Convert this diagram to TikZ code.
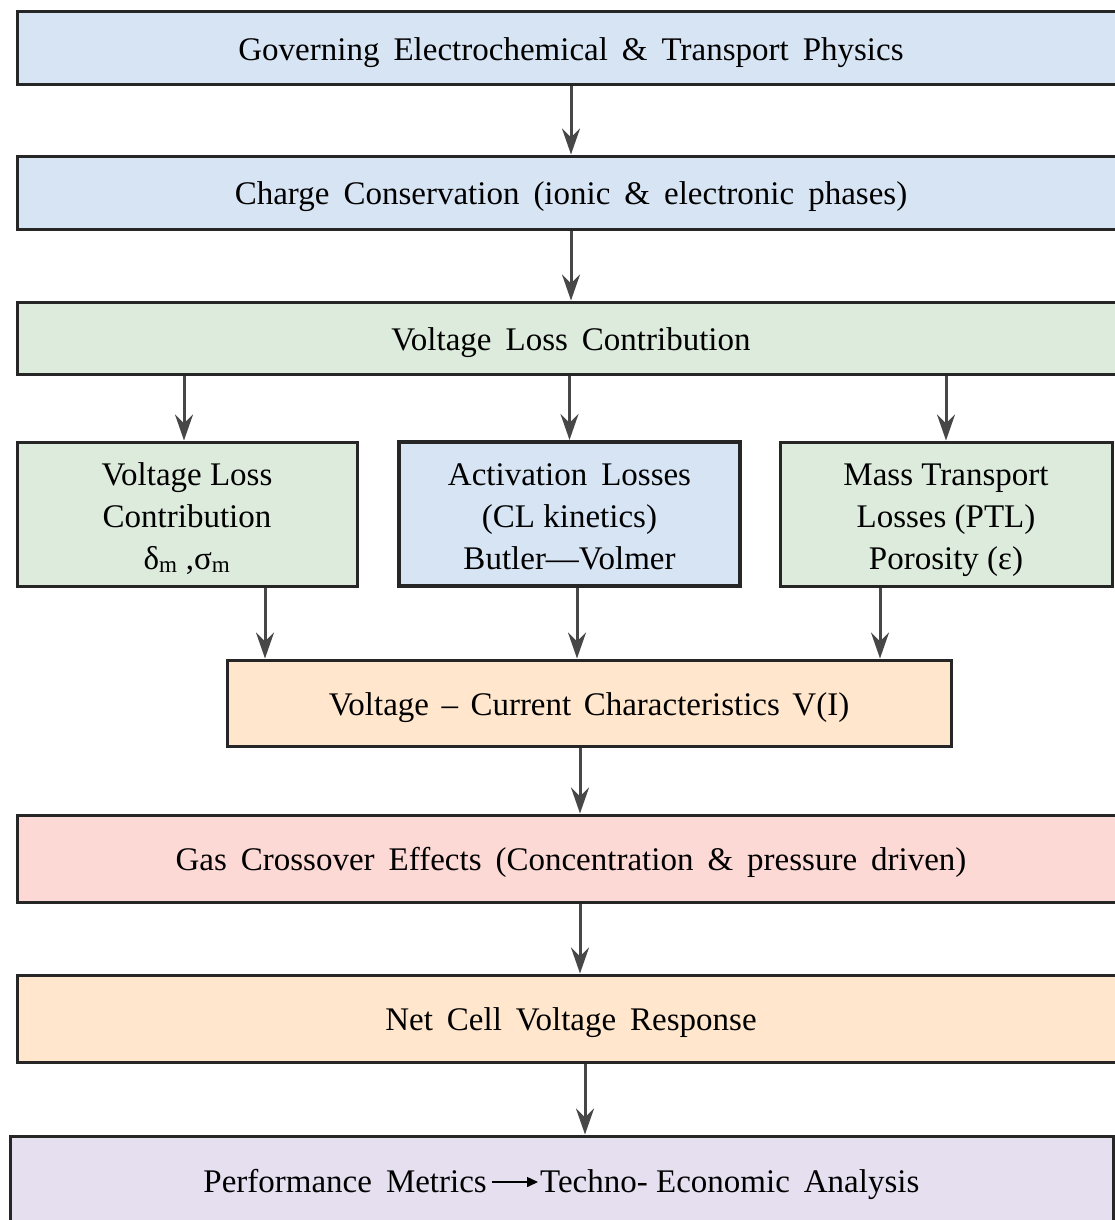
\documentclass[tikz,border=0pt]{standalone}
\usepackage{fontspec}
\setmainfont{Liberation Serif}
\usetikzlibrary{arrows.meta}
\definecolor{bluef}{HTML}{D6E4F4}
\definecolor{greenf}{HTML}{DDEBDD}
\definecolor{orangef}{HTML}{FFE6CC}
\definecolor{pinkf}{HTML}{FDD9D6}
\definecolor{purplef}{HTML}{E6DFF0}
\definecolor{bord}{HTML}{262626}
\definecolor{arrc}{HTML}{474747}
\newcommand{\gap}{\hspace*{14pt}\ignorespaces}
\newcommand{\gapm}{\hspace*{12.5pt}\ignorespaces}
\begin{document}
\begin{tikzpicture}[x=1pt,y=-1pt,
  box/.style={draw=bord, line width=3pt, inner sep=0pt, align=center,
    font=\fontsize{33}{42}\selectfont},
  one/.style={box, text height=24pt, text depth=0pt},
  three/.style={box, text height=110pt, text depth=0pt},
  txt/.style={inner sep=0pt, font=\fontsize{33}{42}\selectfont},
  ar/.style={draw=arrc, line width=3pt, -{Stealth[length=26pt,width=18pt,inset=9pt]}}]
\clip (0,0) rectangle (1115,1220);
\fill[white] (0,0) rectangle (1115,1220);

\node[one, fill=bluef, minimum width=1108pt, minimum height=73pt] (b1) at (571,48.5)
  {Governing\gap Electrochemical\gap \&\gap Transport\gap Physics};
\node[one, fill=bluef, minimum width=1108pt, minimum height=73pt] (b2) at (571,192.5)
  {Charge\gap Conservation\gap (ionic\gap \&\gap electronic\gap phases)};
\node[one, fill=greenf, minimum width=1108pt, minimum height=72pt] (b3) at (571,338)
  {Voltage\gap Loss\gap Contribution};

\node[three, fill=greenf, minimum width=340pt, minimum height=144pt] (A) at (187,514)
  {Voltage Loss\\Contribution\\δ\textsubscript{m} ,σ\textsubscript{m}};
\node[three, fill=bluef, line width=4pt, minimum width=341pt, minimum height=144pt] (B) at (569.5,514)
  {Activation\gap Losses\\(CL kinetics)\\Butler—Volmer};
\node[three, fill=greenf, minimum width=332pt, minimum height=144pt] (C) at (946,514)
  {Mass Transport\\Losses (PTL)\\Porosity (ε)};

\node[one, fill=orangef, minimum width=724pt, minimum height=86pt] (VI) at (589,703)
  {Voltage\gapm –\gapm Current\gapm Characteristics\gapm V(I)};
\node[one, fill=pinkf, minimum width=1108pt, minimum height=87pt] (gas) at (571,858.5)
  {Gas\gap Crossover\gap Effects\gap (Concentration\gap \&\gap pressure\gap driven)};
\node[one, fill=orangef, minimum width=1108pt, minimum height=87pt] (net) at (571,1018.5)
  {Net\gap Cell\gap Voltage\gap Response};
\node[box, fill=purplef, minimum width=1103pt, minimum height=90pt] (perf) at (561.5,1181) {};
\node[txt, anchor=base east] (pl) at (487,1192) {Performance\gap Metrics};
\node[txt, anchor=base west] (pr) at (540,1192) {Techno- Economic\gap Analysis};
\draw[black, line width=1.5pt, -{Triangle[length=11pt,width=10pt]}]
  ([xshift=5pt,yshift=10pt]pl.base east) -- ([xshift=-2pt,yshift=10pt]pr.base west);

\draw[ar] (b1) -- (b2);
\draw[ar] (b2) -- (b3);
\draw[ar] ([xshift=-3pt]A.north |- b3.south) -- ([xshift=-3pt]A.north);
\draw[ar] (b3.south -| B.north) -- (B.north);
\draw[ar] (b3.south -| C.north) -- (C.north);
\draw[ar] ([xshift=78pt]A.south) -- ([xshift=78pt]A.south |- VI.north);
\draw[ar] ([xshift=7.5pt]B.south) -- ([xshift=7.5pt]B.south |- VI.north);
\draw[ar] ([xshift=-66pt]C.south) -- ([xshift=-66pt]C.south |- VI.north);
\draw[ar] ([xshift=-9pt]VI.south) -- ([xshift=-9pt]VI.south |- gas.north);
\draw[ar] ([xshift=9pt]gas.south) -- ([xshift=9pt]gas.south |- net.north);
\draw[ar] ([xshift=14pt]net.south) -- ([xshift=14pt]net.south |- perf.north);
\end{tikzpicture}
\end{document}
